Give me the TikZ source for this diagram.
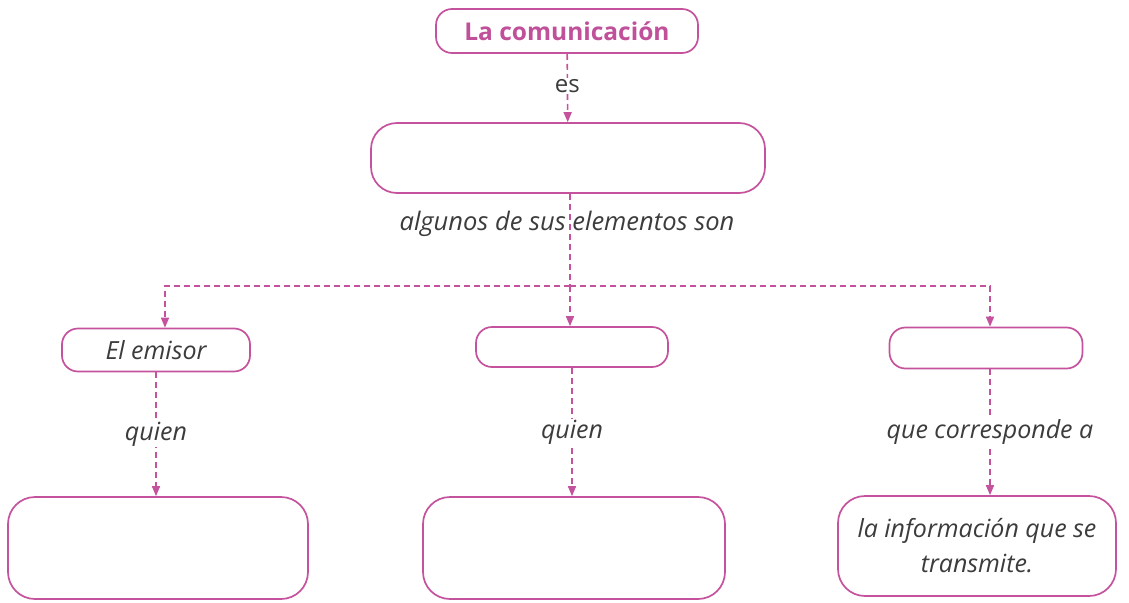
\documentclass[tikz,border=0pt]{standalone}
\usepackage{fontspec}
\setmainfont{Open Sans}
\usetikzlibrary{arrows.meta,calc}
\definecolor{pinkline}{HTML}{C4529C}
\definecolor{pinktext}{HTML}{C0509A}
\definecolor{labgray}{HTML}{3C3C3C}
\tikzset{
  x=1pt,y=-1pt,
  box/.style={draw=pinkline,line width=1.7pt,rounded corners=#1,inner sep=0pt,align=center},
  box/.default=16pt,
  conn/.style={draw=pinkline,line width=1.6pt,dash pattern=on 6pt off 4pt},
  arr/.style={conn,-{Triangle[length=10pt,width=8pt]}},
  lab/.style={text=labgray,font=\fontsize{25}{30}\selectfont\itshape,inner sep=1pt},
  labw/.style={lab,fill=white},
}
\begin{document}
\begin{tikzpicture}
\useasboundingbox (0,0) rectangle (1129,602);
\node[box,minimum width=262pt,minimum height=44pt,text=pinktext,font=\fontsize{24.5}{28}\selectfont\bfseries] (top) at (567,31) {La comunicación};
\node[box=26pt,minimum width=394pt,minimum height=70pt] (mid) at (568,158) {};
\node[box,minimum width=188pt,minimum height=43pt,text=labgray,font=\fontsize{25}{30}\selectfont\itshape] (emi) at (156,350) {El emisor};
\node[box,minimum width=192pt,minimum height=40pt] (ms) at (572,347) {};
\node[box,minimum width=193pt,minimum height=41pt] (rs) at (986,348) {};
\node[box=27pt,minimum width=300pt,minimum height=102pt] (bl) at (158,548) {};
\node[box=27pt,minimum width=302pt,minimum height=102pt] (bm) at (574,548) {};
\node[box=27pt,minimum width=278pt,minimum height=100pt,text=labgray,font=\fontsize{25}{35}\selectfont\itshape] (br) at (977,546) {la información que se\\transmite.};
\coordinate (j) at (570,286);
\node[lab,font=\fontsize{25.5}{30}\selectfont\itshape] (alg) at (567,224) {algunos de sus elementos son};
\draw[arr] (top) -- node[labw,font=\fontsize{24}{28}\selectfont,pos=0.47]{es} (mid);
\draw[conn] (mid.south -| j) -- (j);
\draw[arr] (j) -- (j |- ms.north);
\draw[arr] (j) -| ([xshift=9pt]emi.north);
\draw[arr] (j) -| ([xshift=4pt]rs.north);
\draw[arr] (emi.south) -- node[labw]{quien} (bl.north -| emi.south);
\draw[arr] (ms.south) -- node[labw]{quien} (bm.north -| ms.south);
\draw[arr] ([xshift=4pt]rs.south) -- node[labw]{que corresponde a} ([xshift=4pt]rs.south |- br.north);
\end{tikzpicture}
\end{document}
